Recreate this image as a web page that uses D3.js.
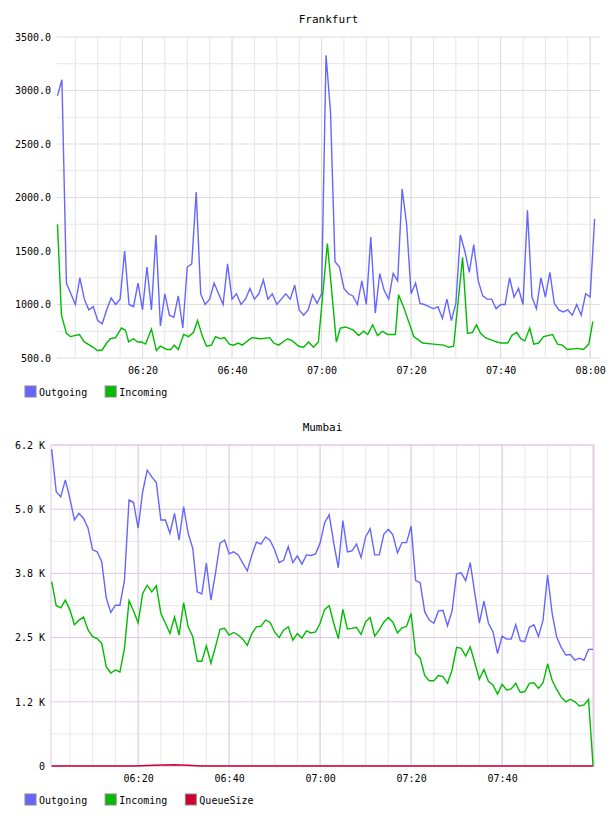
<!DOCTYPE html>
<html><head><meta charset="utf-8">
<script src="https://cdn.jsdelivr.net/npm/d3@7"></script>
<style>
body{margin:0;background:#fff;font-family:"DejaVu Sans Mono",monospace;}
svg text{font-family:"DejaVu Sans Mono",monospace;font-size:10px;fill:#000;}
</style></head><body>
<svg id="chart" width="608" height="816"></svg>
<script>
// Frankfurt: one value per minute from 06:01
var frOutgoing = [2950,3100,1200,1100,1000,1250,1050,950,980,850,820,950,1060,1000,1050,1500,1000,980,1200,950,
  1350,950,1650,800,1100,900,880,1080,780,1350,1380,2050,1100,1000,1050,1200,1100,1000,1380,1050,
  1100,1000,1050,1150,1050,1100,1230,1050,1100,1000,1050,1100,1050,1180,950,900,950,1090,1010,1100,
  3330,2800,1400,1350,1150,1100,1080,1000,1220,1000,1630,920,1290,1130,1050,1290,1220,2080,1750,1100,
  1200,1010,1000,980,960,980,870,1050,850,1010,1650,1500,1300,1560,1220,1080,1050,1050,960,1000,
  1000,1250,1070,1150,1000,1880,1070,960,1250,1070,1300,1010,950,930,950,900,1000,900,1100,1070,1800];
// Frankfurt incoming: minutes after 06:01 and values
var frInMinute = [0,0.9,2,2.9,4.9,6,8,8.9,10,11,11.8,13,14.3,15.2,15.9,17,17.9,18.8,19.7,21,22.1,23,24.4,25.3,26.1,27,
  28.2,29.3,30.4,31.3,32.4,33.3,34.4,35.3,36.4,37.3,38.4,39.3,40.4,41.3,43.4,45.4,47.4,48.3,49.4,51.4,52.5,53.9,55,
  56.1,57.2,58.3,60.3,62.3,63.2,64.4,66.1,67.3,68.4,69.3,70.4,71.5,72.6,73.7,75.5,76.2,77.3,79.6,81.6,84,86.3,87.4,
  88.5,90.5,91.6,92.7,93.6,94.5,95.6,97.4,99,100.6,101.5,102.6,103.5,104.4,105.5,106.4,107.5,108.6,110.6,111.7,
  112.8,113.9,116.2,117.5,118.7,119.6];
var frIncoming = [1750,900,730,700,720,650,600,570,575,640,680,690,780,760,650,680,650,650,630,770,570,610,580,580,620,580,
  720,700,740,850,700,610,620,700,680,690,630,620,640,620,690,680,690,640,620,680,660,610,600,
  650,600,650,1570,650,780,790,760,710,750,720,810,710,750,720,720,1090,980,700,640,630,620,600,
  610,1440,730,740,810,730,690,660,640,640,710,740,680,660,780,630,640,700,720,630,
  620,580,590,580,630,840];
var frTicks = [500,1000,1500,2000,2500,3000,3500];

// Mumbai: one value per minute from 06:01
var mbOutgoing = [6170,5340,5240,5570,5210,4790,4920,4820,4630,4210,4170,3980,3270,2990,3130,3130,3620,5180,5130,4630,
  5340,5760,5630,5520,4790,4790,4530,4920,4400,5050,4530,4240,3390,3350,3950,3230,3750,4340,4400,4130,
  4170,4110,3950,3800,4110,4360,4320,4460,4390,4210,3960,4010,4270,3960,4090,3930,
  4110,4100,4130,4340,4740,4890,4340,3860,4780,4170,4190,4320,4060,4460,4620,4110,4110,4510,4610,4500,
  4150,4350,4350,4670,3610,3570,3000,2840,2780,3020,3030,2730,3020,3740,3760,3610,3960,3360,2780,3210,
  2780,2610,2190,2530,2470,2470,2750,2440,2420,2700,2750,2520,2840,3720,2970,2510,2310,2160,2170,2060,
  2100,2060,2270,2270];
var mbIncoming = [3590,3120,3080,3230,3040,2750,2840,2900,2650,2520,2480,2390,1930,1810,1870,1830,2290,3220,3020,2790,
  3360,3520,3390,3510,2970,2780,2580,2900,2550,3180,2710,2520,2040,2040,2340,2000,2320,2660,2680,2550,
  2600,2550,2470,2350,2580,2710,2720,2840,2800,2610,2500,2650,2710,2450,2580,2490,
  2630,2590,2610,2780,3050,3120,2780,2480,3050,2670,2680,2700,2560,2810,2890,2530,2650,2800,2890,2800,
  2590,2690,2720,2970,2190,2100,1760,1660,1660,1760,1740,1610,1870,2310,2290,2140,2320,2010,1690,1880,
  1650,1580,1400,1590,1480,1500,1610,1430,1450,1610,1620,1510,1620,1990,1670,1490,1340,1250,1300,1250,
  1170,1190,1300,0];
var mbQueueMinute = [0,18,21,24,27,30,33,119];
var mbQueue = [0,0,10,20,25,15,0,0];
var mbTicks = [0,1250,2500,3750,5000,6250];
var mbTickLabels = ["0","1.2 K","2.5 K","3.8 K","5.0 K","6.2 K"];

var colOut = "#6666ff", colIn = "#00bb00", colQueue = "#cc0033";

var svg = d3.select("#chart");
var t0 = new Date(2020,0,1,6,1);
function at(m) { return new Date(t0.getTime() + m*60000); }
var fmt = d3.timeFormat("%H:%M");

function drawPanel(o) {
  var g = svg.append("g");
  var x = d3.scaleTime().domain([at(o.x0), at(o.x1)]).range([o.left, o.right]);
  var y = d3.scaleLinear().domain(o.yDomain).range([o.bottom, o.top]);

  // minor gridlines
  g.selectAll(".vmin").data(d3.timeMinute.every(5).range(at(o.x0), at(o.x1)))
    .enter().append("line")
    .attr("x1", x).attr("x2", x).attr("y1", o.top).attr("y2", o.bottom)
    .attr("stroke", o.minorColor).attr("stroke-width", 1);
  g.selectAll(".hmin").data(o.yMinor).enter().append("line")
    .attr("x1", o.left).attr("x2", o.right).attr("y1", y).attr("y2", y)
    .attr("stroke", o.minorColor);
  // major gridlines
  g.selectAll(".vmaj").data(d3.timeMinute.every(20).range(at(o.x0), at(o.x1)))
    .enter().append("line")
    .attr("x1", x).attr("x2", x).attr("y1", o.top).attr("y2", o.bottom)
    .attr("stroke", o.majorColor);
  g.selectAll(".hmaj").data(o.yTicks).enter().append("line")
    .attr("x1", o.left).attr("x2", o.right).attr("y1", y).attr("y2", y)
    .attr("stroke", o.majorColor);
  if (o.frame) {
    g.append("rect").attr("x", o.left).attr("y", o.top)
      .attr("width", o.right - o.left).attr("height", o.bottom - o.top)
      .attr("fill", "none").attr("stroke", o.majorColor);
  }

  // axes
  var ya = d3.axisLeft(y).tickValues(o.yTicks).tickSize(0).tickPadding(6)
    .tickFormat(function(d, i) { return o.yLabels[i]; });
  g.append("g").attr("transform", "translate(" + o.left + ",0)").call(ya)
    .call(function(s) { s.select(".domain").remove(); });
  var xTicks = d3.timeMinute.every(20).range(at(o.x0), at(o.x1 - o.xTickMargin));
  var xa = d3.axisBottom(x).tickValues(xTicks).tickSize(0).tickPadding(9).tickFormat(fmt);
  g.append("g").attr("transform", "translate(0," + o.bottom + ")").call(xa)
    .call(function(s) { s.select(".domain").remove(); });
  g.selectAll(".tick text").style("font-family", "DejaVu Sans Mono").style("font-size", "10px");

  // series
  var line = d3.line().x(function(d) { return x(at(d[0])); }).y(function(d) { return y(d[1]); });
  o.series.forEach(function(s) {
    g.append("path").datum(s.points).attr("d", line)
      .attr("fill", "none").attr("stroke", s.color).attr("stroke-width", 1.4);
  });

  // title
  g.append("text").attr("x", (o.left + o.right) / 2).attr("y", o.top - 14)
    .attr("text-anchor", "middle").style("font-size", "11px").text(o.title);

  // legend
  var lx = 25;
  o.series.forEach(function(s) {
    g.append("rect").attr("x", lx).attr("y", o.legendY - 6).attr("width", 11).attr("height", 11)
      .attr("fill", s.color).attr("stroke", "#888");
    var t = g.append("text").attr("x", lx + 14).attr("y", o.legendY + 4).text(s.name);
    lx += 14 + t.node().getComputedTextLength() + 18;
  });
}

function perMinute(vals) { return vals.map(function(v, i) { return [i, v]; }); }
function paired(ms, vals) { return ms.map(function(m, i) { return [m, vals[i]]; }); }

drawPanel({
  title: "Frankfurt", left: 57, right: 600, top: 37, bottom: 358,
  x0: -0.1, x1: 121.2, xTickMargin: 0, yDomain: [500, 3500],
  yTicks: frTicks, yLabels: frTicks.map(d3.format(".1f")),
  yMinor: [750,1250,1750,2250,2750,3250],
  minorColor: "#e6e6e6", majorColor: "#dddddd", frame: false, legendY: 392,
  series: [
    {name: "Outgoing", color: colOut, points: perMinute(frOutgoing)},
    {name: "Incoming", color: colIn, points: paired(frInMinute, frIncoming)}
  ]
});

drawPanel({
  title: "Mumbai", left: 51, right: 594, top: 445, bottom: 766,
  x0: -0.15, x1: 119.2, xTickMargin: 2, yDomain: [0, 6250],
  yTicks: mbTicks, yLabels: mbTickLabels,
  yMinor: [625,1875,3125,4375,5625],
  minorColor: "#e8e8e8", majorColor: "#e2c8e2", frame: true, legendY: 800,
  series: [
    {name: "Outgoing", color: colOut, points: perMinute(mbOutgoing)},
    {name: "Incoming", color: colIn, points: perMinute(mbIncoming)},
    {name: "QueueSize", color: colQueue, points: paired(mbQueueMinute, mbQueue)}
  ]
});
</script>
</body></html>
